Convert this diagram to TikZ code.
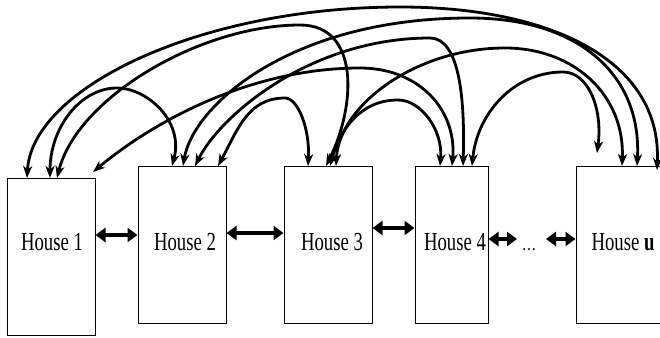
\documentclass[tikz,border=0pt]{standalone}
\usepackage{fontspec}
\newfontfamily\hf[FakeStretch=0.72]{Liberation Serif}
\usetikzlibrary{arrows.meta}
\begin{document}
\begin{tikzpicture}[x=1pt,y=-1pt,
  house/.style={draw, line width=1pt, inner sep=0pt},
  lab/.style={font=\hf\fontsize{26}{30}\selectfont, anchor=base, inner sep=0pt},
  arc/.style={line width=2.8pt, {Stealth[length=12pt,width=9pt,inset=3.5pt]}-{Stealth[length=12pt,width=9pt,inset=3.5pt]}},
  harrow/.style={line width=3.6pt, {Triangle[length=10pt,width=14pt]}-{Triangle[length=10pt,width=14pt]}}]
\useasboundingbox (0,0) rectangle (660,337);
\clip (0,0) rectangle (660,337);
\fill[white] (0,0) rectangle (660,337);
% boxes
\node[house, minimum width=88pt, minimum height=157pt] (h1) at (51,256.5) {};
\node[house, minimum width=88pt, minimum height=157pt] (h2) at (182,244.5) {};
\node[house, minimum width=88pt, minimum height=157pt] (h3) at (328,244.5) {};
\node[house, minimum width=73pt, minimum height=157pt] (h4) at (451.5,244.5) {};
\node[house, minimum width=88pt, minimum height=157pt] (hu) at (620,244.5) {};
% labels
\node[lab] (t1) at (52,250) {House 1};
\node[lab] (t2) at (185,250) {House 2};
\node[lab] (t3) at (332,250) {House 3};
\node[lab] (t4) at (455,250) {House 4};
\node[lab] (tu) at (623,250) {House \textbf{u}};
\node[lab, font=\hf\fontsize{20}{24}\selectfont] (dots) at (529,250) {…};
% horizontal arrows
\coordinate (r1) at (0,235);
\coordinate (r2) at (0,233);
\coordinate (r3) at (0,228);
\coordinate (r4) at (0,239);
\coordinate (q1) at (517,239);
\coordinate (q2) at (546,239);
\draw[harrow] (h1.east |- r1) -- (h2.west |- r1);
\draw[harrow] (h2.east |- r2) -- (h3.west |- r2);
\draw[harrow] (h3.east |- r3) -- (h4.west |- r3);
\draw[harrow] (h4.east |- r4) -- (q1);
\draw[harrow] (q2) -- (hu.west |- r4);
% arc end points
\coordinate (a1) at (27,178);
\coordinate (a2) at (50,178);
\coordinate (a3) at (57,178);
\coordinate (a4) at (93,172);
\coordinate (b1) at (172,166);
\coordinate (b2) at (183,166);
\coordinate (b3) at (195,166);
\coordinate (b4) at (218,166);
\coordinate (c1) at (308,166);
\coordinate (c2) at (326,166);
\coordinate (c3) at (330,166);
\coordinate (c4) at (336,166);
\coordinate (e1) at (440,166);
\coordinate (e2) at (452,166);
\coordinate (e3) at (463,166);
\coordinate (e4) at (472,166);
\coordinate (f1) at (597,153);
\coordinate (f2) at (622,166);
\coordinate (f3) at (637,166);
\coordinate (f4) at (657,170);
% peaks
\coordinate (k12) at (117,88);
\coordinate (k23) at (285,98);
\coordinate (k34) at (398,100);
\coordinate (k45) at (563,72);
\coordinate (k13) at (300,25);
\coordinate (k15) at (400,7);
\coordinate (k14) at (360,68);
\coordinate (k24) at (430,38);
\coordinate (k25) at (470,18);
\coordinate (k35) at (505,48);
% arcs
\draw[arc] (a2) .. controls +(0,-50) and +(-37,0) .. (k12) .. controls +(30,0) and +(12,-45) .. (b1);
\draw[arc] (b4) .. controls +(20,-37) and +(-37,0) .. (k23) .. controls +(13,0) and +(2,-37) .. (c1);
\draw[arc] (c3) .. controls +(10,-36) and +(-38,0) .. (k34) .. controls +(23,0) and +(3,-36) .. (e1);
\draw[arc] (e4) .. controls +(5,-52) and +(-50,0) .. (k45) .. controls +(25,0) and +(6,-45) .. (f1);
\draw[arc] (a3) .. controls +(20,-80) and +(-100,0) .. (k13) .. controls +(60,0) and +(30,-60) .. (c2);
\draw[arc] (a1) .. controls +(5,-90) and +(-200,0) .. (k15) .. controls +(150,0) and +(5,-110) .. (f4);
\draw[arc] (a4) .. controls +(60,-50) and +(-110,0) .. (k14) .. controls +(60,0) and +(5,-55) .. (e2);
\draw[arc] (b3) .. controls +(25,-50) and +(-120,0) .. (k24) .. controls +(30,0) and +(2,-65) .. (e3);
\draw[arc] (b2) .. controls +(10,-60) and +(-180,0) .. (k25) .. controls +(110,0) and +(5,-90) .. (f3);
\draw[arc] (c4) .. controls +(3,-60) and +(-90,0) .. (k35) .. controls +(70,0) and +(3,-70) .. (f2);
\end{tikzpicture}
\end{document}
